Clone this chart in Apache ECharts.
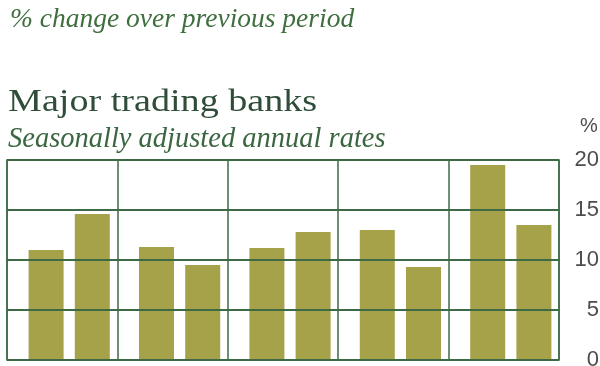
<!DOCTYPE html>
<html>
<head>
<meta charset="utf-8">
<script src="https://cdn.jsdelivr.net/npm/echarts@6/dist/echarts.min.js"></script>
<style>html,body{margin:0;padding:0;background:#fff;}#c{width:600px;height:366px;}</style>
</head>
<body>
<div id="c"></div>
<script>
var periods = ['P1', 'P2', 'P3', 'P4', 'P5'];
var seriesA = [11.0, 11.3, 11.2, 13.0, 19.5];
var seriesB = [14.6, 9.5, 12.8, 9.3, 13.5];
var yTicks = [0, 5, 10, 15, 20];
var topNote = '% change over previous period';
var titleText = 'Major trading banks';
var subtitleText = 'Seasonally adjusted annual rates';
var unitText = '%';

var gridColor = '#3d6a45';
var barColor = '#a6a24a';
var chart = echarts.init(document.getElementById('c'), null, {renderer: 'canvas'});
chart.setOption({
  animation: false,
  backgroundColor: '#ffffff',
  grid: [
    {left: 7, right: 41, top: 160, bottom: 6, outerBoundsMode: 'none', containLabel: false, show: true, borderColor: gridColor, borderWidth: 1.5, z: 10},
    {left: 14, right: 34, top: 160, bottom: 6, outerBoundsMode: 'none', containLabel: false}
  ],
  xAxis: [
    {type: 'category', gridIndex: 0, data: periods, z: 10,
     axisLine: {show: false}, axisTick: {show: false}, axisLabel: {show: false},
     splitLine: {show: true, lineStyle: {color: gridColor, width: 1.5}}},
    {type: 'category', gridIndex: 1, data: periods, show: false}
  ],
  yAxis: [
    {type: 'value', gridIndex: 0, min: yTicks[0], max: yTicks[yTicks.length - 1], interval: 5, position: 'right', z: 10,
     axisLine: {show: false}, axisTick: {show: false},
     axisLabel: {align: 'right', margin: 40, fontFamily: 'Liberation Sans, Arial, sans-serif', fontSize: 22, color: '#4d4d4d'},
     splitLine: {show: true, lineStyle: {color: gridColor, width: 1.8}}},
    {type: 'value', gridIndex: 1, min: yTicks[0], max: yTicks[yTicks.length - 1], show: false}
  ],
  series: [
    {type: 'bar', xAxisIndex: 1, yAxisIndex: 1, data: seriesA, barWidth: 35, barGap: '32%', itemStyle: {color: barColor}, z: 2},
    {type: 'bar', xAxisIndex: 1, yAxisIndex: 1, data: seriesB, barWidth: 35, barGap: '32%', itemStyle: {color: barColor}, z: 2}
  ],
  graphic: [
    {type: 'text', x: 10, y: 6, style: {text: topNote, fill: '#3f6e3f', font: 'italic 27.5px "Liberation Serif", serif', verticalAlign: 'top'}},
    {type: 'text', x: 8, y: 87, scaleX: 1.23, style: {text: titleText, fill: '#2f4d38', font: '31px "Liberation Serif", serif', verticalAlign: 'top'}},
    {type: 'text', x: 8, y: 125, style: {text: subtitleText, fill: '#3a6640', font: 'italic 28.5px "Liberation Serif", serif', verticalAlign: 'top'}},
    {type: 'text', x: 580, y: 116, style: {text: unitText, fill: '#4d4d4d', font: '20px "Liberation Sans", Arial, sans-serif', verticalAlign: 'top'}}
  ]
});
</script>
</body>
</html>
